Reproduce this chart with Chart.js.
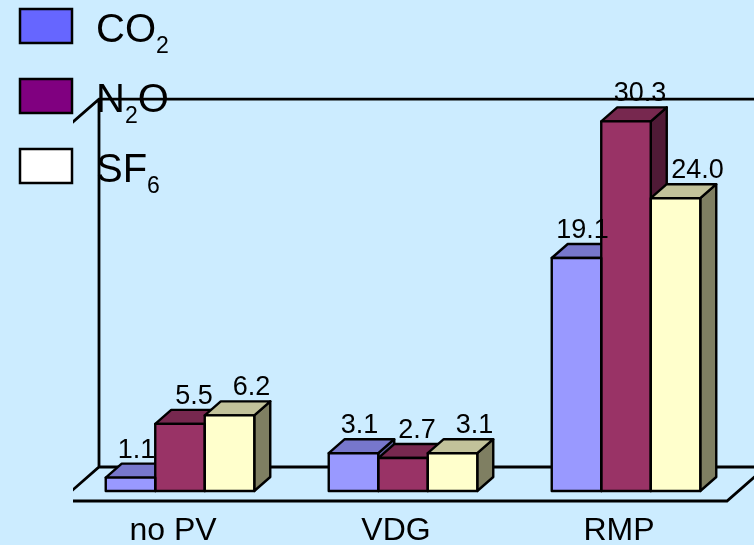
<!DOCTYPE html>
<html>
<head>
<meta charset="utf-8">
<title>Emissions by scenario</title>
<style>
  html, body { margin: 0; padding: 0; background: #CCECFF; }
  #wrap { position: relative; width: 754px; height: 545px; }
  canvas { display: block; }
</style>
<script src="https://cdn.jsdelivr.net/npm/chart.js@4/dist/chart.umd.min.js"></script>
</head>
<body>
<div id="wrap"><canvas id="chart" width="754" height="545"></canvas></div>
<script>
// ---- data ----
const categories = ['no PV', 'VDG', 'RMP'];
const seriesNames = ['CO2', 'N2O', 'SF6'];
const co2Values = [1.1, 3.1, 19.1];
const n2oValues = [5.5, 2.7, 30.3];
const sf6Values = [6.2, 3.1, 24.0];
const valueAxisMax = 32;

// ---- styling ----
const FONT = "'Liberation Sans', Arial, sans-serif";
const BG = '#CCECFF';
const seriesStyles = [
  { front: '#9999FF', top: '#7777CC', side: '#5C5C99', swatch: '#6666FF' },
  { front: '#993366', top: '#77284F', side: '#4F1A36', swatch: '#800080' },
  { front: '#FFFFCC', top: '#C2C29A', side: '#7F7F62', swatch: '#FFFFFF' }
];
const BAR_DX = 16;        // depth of a bar, horizontal projection
const BAR_DY = 14;        // depth of a bar, vertical projection
const FLOOR_MARGIN = 10;  // floor extends this far in front of / behind the bars
const LABEL_SHIFT = [-2, 6, 14];

function drawSubscripted(ctx, text, x, baseline, size, subSize) {
  // digits in chemical formulas are set as subscripts
  let cx = x;
  for (const ch of text) {
    const isSub = /[0-9]/.test(ch);
    ctx.font = (isSub ? subSize : size) + 'px ' + FONT;
    ctx.fillText(ch, cx, baseline + (isSub ? 11 : 0));
    cx += ctx.measureText(ch).width;
  }
}

const boxPlugin = {
  id: 'box3d',
  beforeDraw(chart) {
    const ctx = chart.ctx;
    ctx.save();
    ctx.fillStyle = BG;
    ctx.fillRect(0, 0, chart.width, chart.height);
    ctx.restore();
  },
  beforeDatasetsDraw(chart) {
    const { ctx, chartArea: a, scales: { y } } = chart;

    // legend
    ctx.save();
    ctx.textBaseline = 'alphabetic';
    ctx.textAlign = 'left';
    chart.data.datasets.forEach((ds, i) => {
      const base = 42 + i * 70;
      ctx.fillStyle = seriesStyles[i].swatch;
      ctx.fillRect(20, base - 33, 52, 34);
      ctx.lineWidth = 2.5;
      ctx.strokeStyle = '#000';
      ctx.strokeRect(20, base - 33, 52, 34);
      ctx.fillStyle = '#000';
      drawSubscripted(ctx, ds.label, 96, base, 40, 23);
    });
    ctx.restore();

    // walls and floor
    const y0 = y.getPixelForValue(0);
    const frontY = y0 + FLOOR_MARGIN;
    const backY = y0 - BAR_DY - FLOOR_MARGIN;
    const depth = frontY - backY;
    const floorDX = depth * BAR_DX / BAR_DY;
    const wallX = a.left + 30.5;
    const wallTop = a.top - 1.5;
    const floorRight = a.right - 10.5;

    ctx.save();
    ctx.beginPath();
    ctx.rect(a.left + 4.5, 0, chart.width, chart.height);
    ctx.clip();
    ctx.strokeStyle = '#000';
    ctx.lineWidth = 2.8;
    ctx.lineJoin = 'miter';
    ctx.beginPath();
    // left wall top edge and back wall
    ctx.moveTo(wallX - floorDX, wallTop + depth);
    ctx.lineTo(wallX, wallTop);
    ctx.lineTo(chart.width + 20, wallTop);
    ctx.moveTo(wallX, wallTop);
    ctx.lineTo(wallX, backY);
    // floor
    ctx.moveTo(wallX - floorDX, frontY);
    ctx.lineTo(wallX, backY);
    ctx.lineTo(floorRight + floorDX + 20, backY);
    ctx.moveTo(wallX - floorDX, frontY);
    ctx.lineTo(floorRight, frontY);
    ctx.lineTo(floorRight + floorDX, backY);
    ctx.stroke();
    ctx.restore();

    // bar sides and tops, painted left to right
    ctx.save();
    ctx.strokeStyle = '#000';
    ctx.lineWidth = 2.4;
    ctx.lineJoin = 'round';
    const n = chart.data.labels.length;
    for (let i = 0; i < n; i++) {
      chart.data.datasets.forEach((ds, d) => {
        const el = chart.getDatasetMeta(d).data[i];
        const p = el.getProps(['x', 'y', 'base', 'width'], true);
        const l = p.x - p.width / 2, r = p.x + p.width / 2;
        const st = seriesStyles[d];
        // side
        ctx.beginPath();
        ctx.moveTo(r, p.y);
        ctx.lineTo(r + BAR_DX, p.y - BAR_DY);
        ctx.lineTo(r + BAR_DX, p.base - BAR_DY);
        ctx.lineTo(r, p.base);
        ctx.closePath();
        ctx.fillStyle = st.side;
        ctx.fill();
        ctx.stroke();
        // top
        ctx.beginPath();
        ctx.moveTo(l, p.y);
        ctx.lineTo(r, p.y);
        ctx.lineTo(r + BAR_DX, p.y - BAR_DY);
        ctx.lineTo(l + BAR_DX, p.y - BAR_DY);
        ctx.closePath();
        ctx.fillStyle = st.top;
        ctx.fill();
        ctx.stroke();
      });
    }
    ctx.restore();
  },
  afterDatasetsDraw(chart) {
    const ctx = chart.ctx;
    ctx.save();
    ctx.strokeStyle = '#000';
    ctx.lineWidth = 2.4;
    ctx.lineJoin = 'round';
    ctx.fillStyle = '#000';
    ctx.font = '27px ' + FONT;
    ctx.textAlign = 'center';
    ctx.textBaseline = 'alphabetic';
    chart.data.datasets.forEach((ds, d) => {
      chart.getDatasetMeta(d).data.forEach((el, i) => {
        const p = el.getProps(['x', 'y', 'base', 'width'], true);
        ctx.strokeRect(p.x - p.width / 2, p.y, p.width, p.base - p.y);
        ctx.fillText(ds.data[i].toFixed(1), p.x + BAR_DX / 2 + LABEL_SHIFT[d], p.y - BAR_DY - 6);
      });
    });
    ctx.restore();
  }
};

const seriesData = [co2Values, n2oValues, sf6Values];

new Chart(document.getElementById('chart'), {
  type: 'bar',
  data: {
    labels: categories,
    datasets: seriesNames.map((name, d) => ({
      label: name,
      data: seriesData[d],
      backgroundColor: seriesStyles[d].front,
      borderWidth: 0,
      categoryPercentage: 0.666,
      barPercentage: 1
    }))
  },
  options: {
    responsive: false,
    animation: false,
    devicePixelRatio: 1,
    layout: { padding: { left: 68.5, right: 16.5, top: 100.6, bottom: 0 } },
    plugins: { legend: { display: false }, tooltip: { enabled: false } },
    scales: {
      x: {
        grid: { display: false },
        border: { display: false },
        ticks: {
          color: '#000',
          font: { family: FONT, size: 32 },
          padding: 13,
          labelOffset: -7,
          maxRotation: 0,
          autoSkip: false
        },
        afterFit(scale) { scale.height = 54; }
      },
      y: { display: false, min: 0, max: valueAxisMax }
    }
  },
  plugins: [boxPlugin]
});
</script>
</body>
</html>
